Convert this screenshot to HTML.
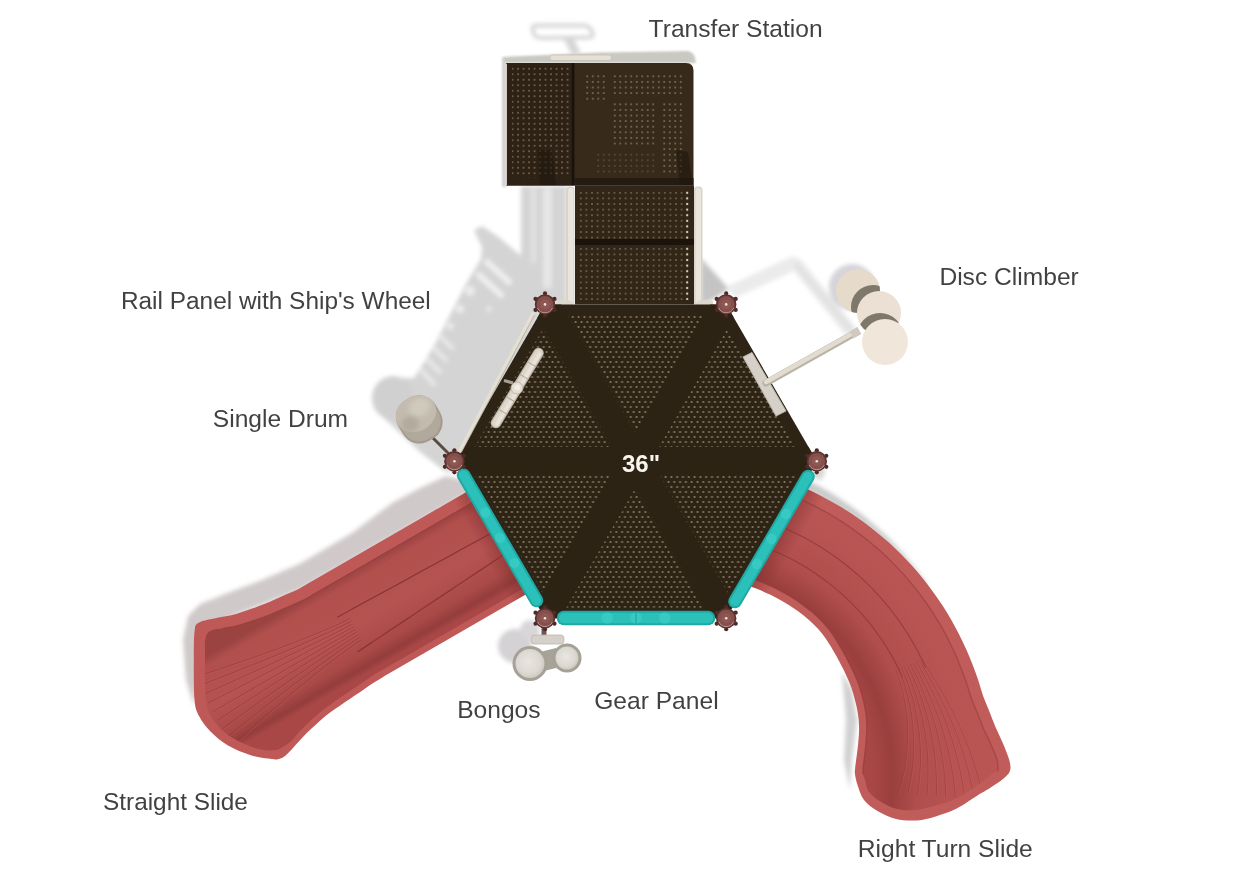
<!DOCTYPE html>
<html><head><meta charset="utf-8"><style>
html,body{margin:0;padding:0;background:#fff;}
body{width:1235px;height:872px;overflow:hidden;}
svg{display:block;}
.lab text{font-family:"Liberation Sans",sans-serif;fill:#3f3f3f;}
</style></head><body>
<svg width="1235" height="872" viewBox="0 0 1235 872">
<defs>
<filter id="blur3" x="-30%" y="-30%" width="160%" height="160%"><feGaussianBlur stdDeviation="2.5"/></filter>
<filter id="blur1" x="-10%" y="-30%" width="120%" height="160%"><feGaussianBlur stdDeviation="0.9"/></filter>
<filter id="blur2" x="-10%" y="-10%" width="120%" height="120%"><feGaussianBlur stdDeviation="2"/></filter>
<pattern id="dots" x="0" y="0" width="5.8" height="10" patternUnits="userSpaceOnUse">
<circle cx="1.5" cy="2" r="1.1" fill="#887a60"/><circle cx="4.4" cy="7" r="1.1" fill="#887a60"/>
</pattern>
<pattern id="sqdots" x="509.8" y="66" width="5.5" height="5.5" patternUnits="userSpaceOnUse"><circle cx="2.75" cy="2.75" r="0.85" fill="#857659"/></pattern>
<pattern id="sqdots3" x="584.5" y="73.5" width="5.5" height="5.6" patternUnits="userSpaceOnUse"><circle cx="2.75" cy="2.8" r="0.85" fill="#8a7b5e"/></pattern>
<pattern id="sqdots4" x="578" y="190" width="5.6" height="5.6" patternUnits="userSpaceOnUse"><circle cx="2.8" cy="2.8" r="1.1" fill="#d8ceb8"/></pattern>
<pattern id="sqdots2" x="578" y="190" width="5.6" height="5.6" patternUnits="userSpaceOnUse"><circle cx="2.8" cy="2.8" r="1" fill="#74674f"/></pattern>
<clipPath id="tpclip"><rect x="508" y="66" width="60" height="117"/><rect x="585" y="74" width="100" height="22"/><rect x="590" y="101" width="95" height="78"/></clipPath>
<linearGradient id="lsgrad" gradientUnits="userSpaceOnUse" x1="347.1" y1="574.2" x2="395.1" y2="657.3">
<stop offset="0" stop-color="#9a4341"/><stop offset="0.1" stop-color="#b14f4d"/><stop offset="0.5" stop-color="#b55351"/><stop offset="0.8" stop-color="#aa4a48"/><stop offset="0.93" stop-color="#943d3c"/><stop offset="1" stop-color="#a84746"/>
</linearGradient>
<linearGradient id="lsentry" gradientUnits="userSpaceOnUse" x1="480.9" y1="550.0" x2="500.0" y2="539.0"><stop offset="0" stop-color="#7a2a29" stop-opacity="0"/><stop offset="1" stop-color="#7a2a29" stop-opacity="0.55"/></linearGradient>
<linearGradient id="rsentry" gradientUnits="userSpaceOnUse" x1="792.3" y1="551.8" x2="771.5" y2="539.8"><stop offset="0" stop-color="#7a2a29" stop-opacity="0"/><stop offset="1" stop-color="#7a2a29" stop-opacity="0.55"/></linearGradient>
<radialGradient id="bong" cx="0.45" cy="0.45" r="0.6"><stop offset="0" stop-color="#e9e6e1"/><stop offset="0.7" stop-color="#dcd8d1"/><stop offset="1" stop-color="#c9c4bb"/></radialGradient>
<radialGradient id="rsgrad" gradientUnits="userSpaceOnUse" cx="677" cy="778" r="317">
<stop offset="0.62" stop-color="#a84745"/><stop offset="0.68" stop-color="#9a3f3e"/><stop offset="0.76" stop-color="#b04e4c"/><stop offset="0.9" stop-color="#b85553"/><stop offset="0.97" stop-color="#b95654"/>
</radialGradient>
</defs>
<rect width="1235" height="872" fill="#fff"/>
<g filter="url(#blur2)">
<path d="M472,482 L446,476 L420,488 L392,503 L352,533 L300,563.5 L262,580 L230,592 L200,604 L188,616 L183,640 L186,680 L194,706 L200,650 L210,625 L300,590 L470,492 Z" fill="#d0c9c9"/>
<path d="M567,186 L521,186 L521,256 L500,238 L482,226 L474,230 L482,247 L481,259 L466,284 L451,313 L436,342 L423,364 L414,378 L400,378 L384,380 L373,392 L374,408 L386,420 L420,452 L446,472 L458,470 L547,302 L567,306 Z" fill="#d4d4d4"/>
<ellipse cx="393" cy="398" rx="21" ry="22" fill="#d0d0d0"/>
<line x1="487" y1="262" x2="509" y2="282" stroke="#efefef" stroke-width="6" stroke-linecap="round"/>
<line x1="479" y1="275" x2="501" y2="295" stroke="#efefef" stroke-width="6" stroke-linecap="round"/>
<circle cx="470" cy="291" r="5" fill="#ececec"/>
<circle cx="460" cy="309" r="4.2" fill="#ececec"/>
<circle cx="489" cy="309" r="2.5" fill="#ececec"/>
<circle cx="450" cy="326" r="3.5" fill="#ececec"/>
<line x1="440" y1="336" x2="452" y2="348" stroke="#e8e8e8" stroke-width="4.5" stroke-linecap="round"/>
<line x1="434" y1="348" x2="446" y2="360" stroke="#e8e8e8" stroke-width="4.5" stroke-linecap="round"/>
<line x1="428" y1="360" x2="440" y2="372" stroke="#e8e8e8" stroke-width="4.5" stroke-linecap="round"/>
<line x1="422" y1="371" x2="434" y2="384" stroke="#e8e8e8" stroke-width="4.5" stroke-linecap="round"/>
<rect x="531" y="188" width="5" height="75" fill="#e2e2e2"/><rect x="543" y="188" width="9" height="100" fill="#e6e6e6"/>
<path d="M536,25.5 L584,25.5 Q590,26 592.5,33 Q594,37.5 588,37.5 L541,38 Q535,38 533.5,33 Q531,25.5 536,25.5 Z" fill="none" stroke="#d6d6d6" stroke-width="4"/>
<path d="M562,36 L572,36 L581,53 L572,55 Z" fill="#d6d6d6"/>
<path d="M701,258 L729,289 L712,300 L701,304 Z" fill="#c4c4c4"/>
<path d="M726,287 L790,257 Q798,256 803,262 L856,328 L846,336 L794,271 L735,298 Z" fill="#ebebeb"/>
<path d="M798,262 L856,330 L850,334 L793,266 Z" fill="#e2e2e2"/>
<circle cx="852" cy="287" r="23" fill="#d4d4d9"/>
<circle cx="515" cy="646" r="17" fill="#d4d2d4"/><circle cx="530" cy="630" r="10" fill="#d8d6d8"/>
<path d="M767.4,462.8 C770.7,461.7 778.2,466.7 783.4,468.9 C788.7,471.0 794.0,473.3 799.1,475.7 C804.3,478.1 809.4,480.7 814.4,483.4 C819.4,486.1 824.3,488.9 829.2,491.8 C834.0,494.7 838.8,497.8 843.5,501.0 C848.1,504.1 852.7,507.4 857.2,510.8 C861.7,514.2 866.1,517.8 870.4,521.4 C874.7,525.0 878.9,528.7 882.9,532.6 C887.0,536.4 891.0,540.3 894.9,544.4 C898.7,548.4 902.5,552.5 906.1,556.7 C909.7,561.0 913.3,565.3 916.7,569.7 C920.1,574.0 925.1,580.6 926.5,583.1 C927.9,585.5 926.9,586.2 924.9,584.3 C922.9,582.4 918.1,575.7 914.5,571.6 C910.9,567.4 907.2,563.4 903.4,559.4 C899.5,555.5 895.6,551.6 891.6,547.8 C887.6,544.1 883.5,540.4 879.3,536.9 C875.1,533.4 870.8,530.0 866.4,526.6 C862.0,523.3 857.6,520.1 853.0,517.1 C848.5,514.0 843.8,511.0 839.1,508.2 C834.4,505.3 829.6,502.6 824.8,500.0 C819.9,497.5 815.0,495.0 810.0,492.7 C805.1,490.3 800.0,488.1 794.9,486.1 C789.9,484.0 784.7,482.1 779.5,480.3 C774.3,478.5 765.8,478.2 763.8,475.3 C761.8,472.4 764.1,463.9 767.4,462.8 Z" fill="#cbcbcb"/>
<path d="M812,462 L826,470 L822,480 L812,478 Z" fill="#d8d8d8"/>
<path d="M842,672 L852,690 L857,720 L852,760 L850,790 L844,760 L846,720 Z" fill="#d0d0d0"/>
</g>
<g>
<path d="M505.9,469.2 C494.9,452.8 499.0,473.2 495.5,475.2 C492.0,477.2 488.6,479.2 485.1,481.2 C481.6,483.2 478.2,485.2 474.7,487.2 C471.2,489.2 467.8,491.2 464.3,493.2 C460.9,495.2 457.4,497.2 453.9,499.2 C450.5,501.2 447.0,503.2 443.5,505.2 C440.1,507.2 436.6,509.2 433.1,511.2 C429.7,513.2 426.2,515.2 422.8,517.2 C419.3,519.2 415.8,521.2 412.4,523.2 C408.9,525.2 405.4,527.2 402.0,529.2 C398.5,531.2 395.0,533.2 391.6,535.2 C388.1,537.2 384.7,539.2 381.2,541.2 C377.7,543.2 374.3,545.2 370.8,547.2 C367.3,549.2 363.9,551.2 360.4,553.2 C356.9,555.2 353.5,557.2 350.0,559.2 C346.5,561.2 343.1,563.2 339.6,565.2 C336.2,567.2 332.7,569.2 329.2,571.2 C325.8,573.2 322.3,575.2 318.8,577.2 C315.4,579.2 311.9,581.2 308.4,583.2 C305.0,585.2 301.6,587.4 298.1,589.2 C294.5,591.0 290.7,592.4 287.0,594.1 C283.3,595.7 279.6,597.3 275.9,598.9 C272.3,600.5 268.6,602.3 264.9,603.8 C261.2,605.3 257.3,606.7 253.5,608.1 C249.7,609.4 245.8,610.7 241.9,611.9 C238.0,613.1 234.1,614.5 230.1,615.5 C226.0,616.4 222.7,616.5 217.5,617.7 C212.2,618.9 202.4,620.3 198.6,622.7 C194.8,625.1 195.3,625.8 194.5,632.0 C193.7,638.2 193.8,648.7 193.8,660.0 C193.8,671.3 193.6,690.7 194.5,700.0 C195.4,709.3 196.4,710.8 199.0,716.0 C201.6,721.2 205.2,726.1 210.0,731.0 C214.8,735.9 221.3,741.6 228.0,745.6 C234.7,749.6 243.3,752.8 250.0,755.0 C256.7,757.2 263.5,757.9 268.0,758.6 C272.5,759.3 274.4,759.7 277.0,759.4 C279.6,759.1 281.3,758.4 283.5,757.0 C285.7,755.6 287.5,753.7 289.9,751.2 C292.4,748.6 295.6,744.9 298.4,741.9 C301.3,738.8 304.1,735.7 307.0,732.7 C310.0,729.8 313.0,727.1 316.0,724.4 C319.1,721.6 322.1,718.8 325.2,716.2 C328.4,713.7 331.7,711.5 335.0,709.1 C338.2,706.8 341.5,704.5 344.8,702.2 C348.1,700.0 351.5,697.8 354.8,695.5 C358.2,693.3 361.5,691.1 364.8,688.8 C368.1,686.6 371.4,684.3 374.8,682.1 C378.2,680.0 381.6,677.9 385.0,675.8 C388.4,673.8 391.9,671.8 395.4,669.8 C398.9,667.8 402.3,665.8 405.8,663.8 C409.3,661.8 412.7,659.8 416.2,657.8 C419.7,655.8 423.1,653.8 426.6,651.8 C430.0,649.8 433.5,647.8 437.0,645.8 C440.4,643.8 443.9,641.8 447.4,639.8 C450.8,637.8 454.3,635.8 457.8,633.8 C461.2,631.8 464.7,629.8 468.1,627.8 C471.6,625.8 475.1,623.8 478.5,621.8 C482.0,619.8 485.5,617.8 488.9,615.8 C492.4,613.8 495.9,611.8 499.3,609.8 C502.8,607.8 506.3,605.8 509.7,603.8 C513.2,601.8 516.6,599.8 520.1,597.8 C523.6,595.8 527.0,593.8 530.5,591.8 C534.0,589.8 537.4,587.8 540.9,585.8 C544.4,583.8 547.8,581.8 551.3,579.8 C554.7,577.8 569.2,592.3 561.7,573.8 C554.1,555.4 516.9,485.6 505.9,469.2 Z" fill="#be5957"/>
<path d="M511.9,479.6 C501.8,466.2 505.0,483.6 501.5,485.6 C498.0,487.6 494.6,489.6 491.1,491.6 C487.6,493.6 484.2,495.6 480.7,497.6 C477.2,499.6 473.8,501.6 470.3,503.6 C466.9,505.6 463.4,507.6 459.9,509.6 C456.5,511.6 453.0,513.6 449.5,515.6 C446.1,517.6 442.6,519.6 439.1,521.6 C435.7,523.6 432.2,525.6 428.8,527.6 C425.3,529.6 421.8,531.6 418.4,533.6 C414.9,535.6 411.4,537.6 408.0,539.6 C404.5,541.6 401.0,543.6 397.6,545.6 C394.1,547.6 390.7,549.6 387.2,551.6 C383.7,553.6 380.3,555.6 376.8,557.6 C373.3,559.6 369.9,561.6 366.4,563.6 C362.9,565.6 359.5,567.6 356.0,569.6 C352.5,571.6 349.1,573.6 345.6,575.6 C342.2,577.6 338.7,579.6 335.2,581.6 C331.8,583.6 328.3,585.6 324.8,587.6 C321.4,589.6 317.9,591.6 314.4,593.6 C311.0,595.6 307.6,597.8 304.1,599.6 C300.5,601.4 296.7,602.8 293.0,604.5 C289.3,606.1 285.6,607.7 281.9,609.3 C278.3,610.9 274.6,612.7 270.9,614.2 C267.2,615.7 263.3,617.1 259.5,618.4 C255.7,619.8 251.8,621.1 247.9,622.3 C244.0,623.5 240.1,624.9 236.1,625.9 C232.0,626.8 228.3,626.7 223.5,628.1 C218.6,629.4 210.1,628.7 207.0,634.0 C203.9,639.3 205.2,649.0 205.0,660.0 C204.8,671.0 204.8,690.3 206.0,700.0 C207.2,709.7 208.3,712.2 212.0,718.0 C215.7,723.8 220.8,730.0 228.0,735.0 C235.2,740.0 247.2,745.5 255.0,748.0 C262.8,750.5 269.2,750.9 275.0,750.0 C280.8,749.1 285.7,745.2 289.5,742.4 C293.4,739.6 295.2,736.2 298.0,733.2 C300.9,730.2 303.8,727.1 306.7,724.2 C309.7,721.4 312.8,718.7 315.8,716.0 C318.9,713.3 322.0,710.7 325.2,708.2 C328.4,705.8 331.7,703.5 335.0,701.2 C338.3,698.8 341.6,696.6 344.9,694.4 C348.2,692.1 351.6,689.9 354.9,687.7 C358.2,685.4 361.6,683.2 364.9,681.0 C368.2,678.7 371.5,676.4 374.9,674.3 C378.3,672.1 381.8,670.2 385.2,668.2 C388.7,666.2 392.2,664.2 395.6,662.2 C399.1,660.2 402.5,658.2 406.0,656.2 C409.5,654.2 412.9,652.2 416.4,650.2 C419.9,648.2 423.3,646.2 426.8,644.2 C430.3,642.2 433.7,640.2 437.2,638.2 C440.7,636.2 444.1,634.2 447.6,632.2 C451.0,630.2 454.5,628.2 458.0,626.2 C461.4,624.2 464.9,622.2 468.4,620.2 C471.8,618.2 475.3,616.2 478.8,614.2 C482.2,612.2 485.7,610.2 489.1,608.2 C492.6,606.2 496.1,604.2 499.5,602.2 C503.0,600.2 506.5,598.2 509.9,596.2 C513.4,594.2 516.9,592.2 520.3,590.2 C523.8,588.2 527.2,586.2 530.7,584.2 C534.2,582.2 537.6,580.2 541.1,578.2 C544.6,576.2 548.0,574.2 551.5,572.2 C555.0,570.2 568.5,581.6 561.9,566.2 C555.3,550.8 522.0,493.0 511.9,479.6 Z" fill="url(#lsgrad)"/>
<path d="M511.9,479.6 C510.2,480.6 505.0,483.6 501.5,485.6 C498.0,487.6 494.6,489.6 491.1,491.6 C487.6,493.6 484.2,495.6 480.7,497.6 C477.2,499.6 473.8,501.6 470.3,503.6 C466.9,505.6 463.4,507.6 459.9,509.6 C456.5,511.6 453.0,513.6 449.5,515.6 C446.1,517.6 442.6,519.6 439.1,521.6 C435.7,523.6 432.2,525.6 428.8,527.6 C425.3,529.6 421.8,531.6 418.4,533.6 C414.9,535.6 411.4,537.6 408.0,539.6 C404.5,541.6 401.0,543.6 397.6,545.6 C394.1,547.6 390.7,549.6 387.2,551.6 C383.7,553.6 380.3,555.6 376.8,557.6 C373.3,559.6 369.9,561.6 366.4,563.6 C362.9,565.6 359.5,567.6 356.0,569.6 C352.5,571.6 349.1,573.6 345.6,575.6 C342.2,577.6 338.7,579.6 335.2,581.6 C331.8,583.6 328.3,585.6 324.8,587.6 C321.4,589.6 317.9,591.6 314.4,593.6 C311.0,595.6 307.6,597.8 304.1,599.6 C300.5,601.4 296.7,602.8 293.0,604.5 C289.3,606.1 285.6,607.7 281.9,609.3 C278.3,610.9 274.6,612.7 270.9,614.2 C267.2,615.7 263.3,617.1 259.5,618.4 C255.7,619.8 251.8,621.1 247.9,622.3 C244.0,623.5 240.1,624.9 236.1,625.9 C232.0,626.8 225.6,627.7 223.5,628.1" fill="none" stroke="#8c3634" stroke-width="1" opacity="0.5"/>
<path d="M512.9,521.4 C510.0,523.0 501.2,527.8 495.4,531.0 C489.5,534.2 483.7,537.4 477.8,540.5 C471.9,543.7 466.1,546.9 460.2,550.1 C454.4,553.3 448.5,556.5 442.7,559.7 C436.8,562.9 431.0,566.1 425.1,569.3 C419.3,572.5 413.4,575.7 407.6,578.9 C401.7,582.1 395.9,585.3 390.0,588.5 C384.1,591.7 378.3,594.9 372.4,598.1 C366.6,601.2 360.7,604.4 354.9,607.6 C349.0,610.8 340.2,615.6 337.3,617.2" fill="none" stroke="#7e2e2d" stroke-width="1.1" opacity="0.85"/>
<path d="M524.2,541.0 C521.4,542.8 513.1,548.4 507.5,552.1 C502.0,555.8 496.4,559.5 490.9,563.2 C485.3,566.9 479.7,570.6 474.2,574.3 C468.6,578.0 463.1,581.7 457.5,585.4 C451.9,589.1 446.4,592.8 440.8,596.5 C435.3,600.2 429.7,603.9 424.1,607.6 C418.6,611.3 413.0,615.0 407.5,618.7 C401.9,622.4 396.3,626.1 390.8,629.8 C385.2,633.5 379.7,637.2 374.1,640.9 C368.5,644.6 360.2,650.2 357.4,652.0" fill="none" stroke="#7e2e2d" stroke-width="1.1" opacity="0.85"/>
<clipPath id="lsclip"><path d="M511.9,479.6 C501.8,466.2 505.0,483.6 501.5,485.6 C498.0,487.6 494.6,489.6 491.1,491.6 C487.6,493.6 484.2,495.6 480.7,497.6 C477.2,499.6 473.8,501.6 470.3,503.6 C466.9,505.6 463.4,507.6 459.9,509.6 C456.5,511.6 453.0,513.6 449.5,515.6 C446.1,517.6 442.6,519.6 439.1,521.6 C435.7,523.6 432.2,525.6 428.8,527.6 C425.3,529.6 421.8,531.6 418.4,533.6 C414.9,535.6 411.4,537.6 408.0,539.6 C404.5,541.6 401.0,543.6 397.6,545.6 C394.1,547.6 390.7,549.6 387.2,551.6 C383.7,553.6 380.3,555.6 376.8,557.6 C373.3,559.6 369.9,561.6 366.4,563.6 C362.9,565.6 359.5,567.6 356.0,569.6 C352.5,571.6 349.1,573.6 345.6,575.6 C342.2,577.6 338.7,579.6 335.2,581.6 C331.8,583.6 328.3,585.6 324.8,587.6 C321.4,589.6 317.9,591.6 314.4,593.6 C311.0,595.6 307.6,597.8 304.1,599.6 C300.5,601.4 296.7,602.8 293.0,604.5 C289.3,606.1 285.6,607.7 281.9,609.3 C278.3,610.9 274.6,612.7 270.9,614.2 C267.2,615.7 263.3,617.1 259.5,618.4 C255.7,619.8 251.8,621.1 247.9,622.3 C244.0,623.5 240.1,624.9 236.1,625.9 C232.0,626.8 228.3,626.7 223.5,628.1 C218.6,629.4 210.1,628.7 207.0,634.0 C203.9,639.3 205.2,649.0 205.0,660.0 C204.8,671.0 204.8,690.3 206.0,700.0 C207.2,709.7 208.3,712.2 212.0,718.0 C215.7,723.8 220.8,730.0 228.0,735.0 C235.2,740.0 247.2,745.5 255.0,748.0 C262.8,750.5 269.2,750.9 275.0,750.0 C280.8,749.1 285.7,745.2 289.5,742.4 C293.4,739.6 295.2,736.2 298.0,733.2 C300.9,730.2 303.8,727.1 306.7,724.2 C309.7,721.4 312.8,718.7 315.8,716.0 C318.9,713.3 322.0,710.7 325.2,708.2 C328.4,705.8 331.7,703.5 335.0,701.2 C338.3,698.8 341.6,696.6 344.9,694.4 C348.2,692.1 351.6,689.9 354.9,687.7 C358.2,685.4 361.6,683.2 364.9,681.0 C368.2,678.7 371.5,676.4 374.9,674.3 C378.3,672.1 381.8,670.2 385.2,668.2 C388.7,666.2 392.2,664.2 395.6,662.2 C399.1,660.2 402.5,658.2 406.0,656.2 C409.5,654.2 412.9,652.2 416.4,650.2 C419.9,648.2 423.3,646.2 426.8,644.2 C430.3,642.2 433.7,640.2 437.2,638.2 C440.7,636.2 444.1,634.2 447.6,632.2 C451.0,630.2 454.5,628.2 458.0,626.2 C461.4,624.2 464.9,622.2 468.4,620.2 C471.8,618.2 475.3,616.2 478.8,614.2 C482.2,612.2 485.7,610.2 489.1,608.2 C492.6,606.2 496.1,604.2 499.5,602.2 C503.0,600.2 506.5,598.2 509.9,596.2 C513.4,594.2 516.9,592.2 520.3,590.2 C523.8,588.2 527.2,586.2 530.7,584.2 C534.2,582.2 537.6,580.2 541.1,578.2 C544.6,576.2 548.0,574.2 551.5,572.2 C555.0,570.2 568.5,581.6 561.9,566.2 C555.3,550.8 522.0,493.0 511.9,479.6 Z"/></clipPath><g clip-path="url(#lsclip)">
<path d="M349.8,618.8 C347.5,619.9 340.8,623.2 336.2,625.3 C331.6,627.3 327.0,629.3 322.3,631.2 C317.7,633.2 313.0,635.1 308.3,637.0 C303.6,638.8 298.9,640.7 294.2,642.5 C289.4,644.3 284.7,646.1 280.0,647.9 C275.2,649.6 270.4,651.4 265.7,653.1 C260.9,654.8 256.1,656.5 251.3,658.2 C246.5,659.9 241.7,661.6 236.9,663.3 C232.1,664.9 227.2,666.6 222.4,668.2 C217.6,669.8 212.7,671.4 207.9,673.0 C203.0,674.6 195.7,677.0 193.3,677.8" fill="none" stroke="#8a3432" stroke-width="0.9" opacity="0.5"/>
<path d="M350.4,619.7 C348.1,620.8 341.4,624.1 336.8,626.2 C332.2,628.2 327.6,630.2 322.9,632.1 C318.3,634.1 313.6,636.0 308.9,637.9 C304.2,639.7 299.5,641.6 294.8,643.4 C290.0,645.2 285.3,647.0 280.6,648.8 C275.8,650.5 271.0,652.3 266.3,654.0 C261.5,655.7 256.7,657.4 251.9,659.1 C247.1,660.8 242.3,662.5 237.5,664.2 C232.7,665.8 227.8,667.5 223.0,669.1 C218.2,670.7 213.3,672.3 208.5,673.9 C203.6,675.5 196.3,677.9 193.9,678.7" fill="none" stroke="#c8625e" stroke-width="0.8" opacity="0.45"/>
<path d="M351.3,621.4 C349.0,622.5 342.4,625.9 337.8,628.1 C333.3,630.3 328.8,632.4 324.2,634.5 C319.6,636.6 315.0,638.6 310.4,640.6 C305.8,642.7 301.2,644.7 296.6,646.7 C292.0,648.7 287.3,650.6 282.7,652.6 C278.0,654.5 273.4,656.5 268.7,658.4 C264.0,660.3 259.4,662.2 254.7,664.1 C250.0,666.0 245.3,667.9 240.6,669.7 C235.9,671.6 231.2,673.5 226.5,675.3 C221.8,677.2 217.1,679.0 212.4,680.8 C207.7,682.6 200.6,685.4 198.2,686.3" fill="none" stroke="#8a3432" stroke-width="0.9" opacity="0.5"/>
<path d="M351.9,622.3 C349.6,623.4 343.0,626.8 338.4,629.0 C333.9,631.2 329.4,633.3 324.8,635.4 C320.2,637.5 315.6,639.5 311.0,641.5 C306.4,643.6 301.8,645.6 297.2,647.6 C292.6,649.6 287.9,651.5 283.3,653.5 C278.6,655.4 274.0,657.4 269.3,659.3 C264.6,661.2 260.0,663.1 255.3,665.0 C250.6,666.9 245.9,668.8 241.2,670.6 C236.5,672.5 231.8,674.4 227.1,676.2 C222.4,678.1 217.7,679.9 213.0,681.7 C208.3,683.5 201.2,686.3 198.8,687.2" fill="none" stroke="#c8625e" stroke-width="0.8" opacity="0.45"/>
<path d="M352.8,624.0 C350.6,625.2 343.9,628.7 339.5,631.0 C335.0,633.3 330.5,635.5 326.1,637.7 C321.6,639.9 317.1,642.1 312.6,644.3 C308.0,646.5 303.5,648.7 299.0,650.8 C294.5,653.0 289.9,655.1 285.4,657.3 C280.9,659.4 276.3,661.5 271.8,663.7 C267.2,665.8 262.6,667.9 258.1,670.0 C253.5,672.1 248.9,674.1 244.4,676.2 C239.8,678.3 235.2,680.4 230.6,682.4 C226.1,684.5 221.5,686.6 216.9,688.6 C212.3,690.7 205.4,693.7 203.1,694.7" fill="none" stroke="#8a3432" stroke-width="0.9" opacity="0.5"/>
<path d="M353.4,624.9 C351.2,626.1 344.5,629.6 340.1,631.9 C335.6,634.2 331.1,636.4 326.7,638.6 C322.2,640.8 317.7,643.0 313.2,645.2 C308.6,647.4 304.1,649.6 299.6,651.7 C295.1,653.9 290.5,656.0 286.0,658.2 C281.5,660.3 276.9,662.4 272.4,664.6 C267.8,666.7 263.2,668.8 258.7,670.9 C254.1,673.0 249.5,675.0 245.0,677.1 C240.4,679.2 235.8,681.3 231.2,683.3 C226.7,685.4 222.1,687.5 217.5,689.5 C212.9,691.6 206.0,694.6 203.7,695.6" fill="none" stroke="#c8625e" stroke-width="0.8" opacity="0.45"/>
<path d="M354.3,626.6 C352.1,627.8 345.5,631.4 341.1,633.8 C336.7,636.2 332.3,638.6 327.9,641.0 C323.5,643.3 319.1,645.7 314.7,648.0 C310.3,650.4 305.8,652.7 301.4,655.0 C297.0,657.3 292.5,659.7 288.1,662.0 C283.7,664.3 279.2,666.6 274.8,668.9 C270.4,671.2 265.9,673.5 261.5,675.8 C257.0,678.1 252.6,680.4 248.1,682.7 C243.7,685.0 239.2,687.3 234.8,689.6 C230.3,691.8 225.8,694.1 221.4,696.4 C216.9,698.7 210.2,702.1 208.0,703.2" fill="none" stroke="#8a3432" stroke-width="0.9" opacity="0.5"/>
<path d="M354.9,627.5 C352.7,628.7 346.1,632.3 341.7,634.7 C337.3,637.1 332.9,639.5 328.5,641.9 C324.1,644.2 319.7,646.6 315.3,648.9 C310.9,651.3 306.4,653.6 302.0,655.9 C297.6,658.2 293.1,660.6 288.7,662.9 C284.3,665.2 279.8,667.5 275.4,669.8 C271.0,672.1 266.5,674.4 262.1,676.7 C257.6,679.0 253.2,681.3 248.7,683.6 C244.3,685.9 239.8,688.2 235.4,690.5 C230.9,692.7 226.4,695.0 222.0,697.3 C217.5,699.6 210.8,703.0 208.6,704.1" fill="none" stroke="#c8625e" stroke-width="0.8" opacity="0.45"/>
<path d="M355.8,629.2 C353.6,630.4 347.1,634.2 342.8,636.7 C338.5,639.2 334.1,641.7 329.8,644.2 C325.5,646.7 321.1,649.2 316.8,651.7 C312.5,654.2 308.1,656.7 303.8,659.2 C299.5,661.7 295.2,664.2 290.8,666.7 C286.5,669.2 282.2,671.7 277.8,674.2 C273.5,676.7 269.2,679.2 264.9,681.7 C260.5,684.2 256.2,686.7 251.9,689.2 C247.5,691.7 243.2,694.2 238.9,696.7 C234.5,699.2 230.2,701.7 225.9,704.2 C221.5,706.7 215.1,710.4 212.9,711.7" fill="none" stroke="#8a3432" stroke-width="0.9" opacity="0.5"/>
<path d="M356.4,630.1 C354.2,631.3 347.7,635.1 343.4,637.6 C339.1,640.1 334.7,642.6 330.4,645.1 C326.1,647.6 321.7,650.1 317.4,652.6 C313.1,655.1 308.8,657.6 304.4,660.1 C300.1,662.6 295.8,665.1 291.4,667.6 C287.1,670.1 282.8,672.6 278.4,675.1 C274.1,677.6 269.8,680.1 265.5,682.6 C261.1,685.1 256.8,687.6 252.5,690.1 C248.1,692.6 243.8,695.1 239.5,697.6 C235.1,700.1 230.8,702.6 226.5,705.1 C222.1,707.6 215.7,711.3 213.5,712.6" fill="none" stroke="#c8625e" stroke-width="0.8" opacity="0.45"/>
<path d="M357.3,631.8 C355.1,633.1 348.7,636.9 344.4,639.6 C340.2,642.2 335.9,644.8 331.7,647.4 C327.4,650.1 323.2,652.7 318.9,655.4 C314.7,658.0 310.5,660.7 306.2,663.4 C302.0,666.0 297.8,668.7 293.5,671.4 C289.3,674.1 285.1,676.8 280.9,679.5 C276.7,682.2 272.5,684.9 268.2,687.6 C264.0,690.3 259.8,693.0 255.6,695.7 C251.4,698.4 247.2,701.1 243.0,703.8 C238.8,706.5 234.6,709.3 230.4,712.0 C226.2,714.7 219.9,718.8 217.8,720.2" fill="none" stroke="#8a3432" stroke-width="0.9" opacity="0.5"/>
<path d="M357.9,632.7 C355.7,634.0 349.3,637.8 345.0,640.5 C340.8,643.1 336.5,645.7 332.3,648.3 C328.0,651.0 323.8,653.6 319.5,656.3 C315.3,658.9 311.1,661.6 306.8,664.3 C302.6,666.9 298.4,669.6 294.1,672.3 C289.9,675.0 285.7,677.7 281.5,680.4 C277.3,683.1 273.1,685.8 268.8,688.5 C264.6,691.2 260.4,693.9 256.2,696.6 C252.0,699.3 247.8,702.0 243.6,704.7 C239.4,707.4 235.2,710.2 231.0,712.9 C226.8,715.6 220.5,719.7 218.4,721.1" fill="none" stroke="#c8625e" stroke-width="0.8" opacity="0.45"/>
<path d="M358.8,634.4 C356.7,635.7 350.3,639.7 346.1,642.4 C341.9,645.1 337.7,647.9 333.5,650.7 C329.4,653.4 325.2,656.3 321.1,659.1 C316.9,661.9 312.8,664.7 308.6,667.5 C304.5,670.4 300.4,673.2 296.3,676.1 C292.1,679.0 288.0,681.9 283.9,684.7 C279.8,687.6 275.7,690.5 271.6,693.4 C267.5,696.3 263.4,699.2 259.3,702.2 C255.3,705.1 251.2,708.0 247.1,711.0 C243.0,713.9 239.0,716.8 234.9,719.8 C230.8,722.7 224.7,727.2 222.7,728.7" fill="none" stroke="#8a3432" stroke-width="0.9" opacity="0.5"/>
<path d="M359.4,635.3 C357.3,636.6 350.9,640.6 346.7,643.3 C342.5,646.0 338.3,648.8 334.1,651.6 C330.0,654.3 325.8,657.2 321.7,660.0 C317.5,662.8 313.4,665.6 309.2,668.4 C305.1,671.3 301.0,674.1 296.9,677.0 C292.7,679.9 288.6,682.8 284.5,685.6 C280.4,688.5 276.3,691.4 272.2,694.3 C268.1,697.2 264.0,700.1 259.9,703.1 C255.9,706.0 251.8,708.9 247.7,711.9 C243.6,714.8 239.6,717.7 235.5,720.7 C231.4,723.6 225.3,728.1 223.3,729.6" fill="none" stroke="#c8625e" stroke-width="0.8" opacity="0.45"/>
<path d="M360.3,637.0 C358.2,638.4 351.9,642.5 347.7,645.3 C343.6,648.1 339.5,651.0 335.4,653.9 C331.3,656.8 327.3,659.8 323.2,662.7 C319.1,665.7 315.1,668.7 311.1,671.7 C307.0,674.7 303.0,677.8 299.0,680.8 C295.0,683.9 291.0,686.9 287.0,690.0 C283.0,693.1 279.0,696.2 275.0,699.3 C271.0,702.4 267.1,705.5 263.1,708.7 C259.1,711.8 255.2,714.9 251.2,718.1 C247.3,721.2 243.3,724.4 239.4,727.6 C235.4,730.8 229.5,735.5 227.6,737.1" fill="none" stroke="#8a3432" stroke-width="0.9" opacity="0.5"/>
<path d="M360.9,637.9 C358.8,639.3 352.5,643.4 348.3,646.2 C344.2,649.0 340.1,651.9 336.0,654.8 C331.9,657.7 327.9,660.7 323.8,663.6 C319.7,666.6 315.7,669.6 311.7,672.6 C307.6,675.6 303.6,678.7 299.6,681.7 C295.6,684.8 291.6,687.8 287.6,690.9 C283.6,694.0 279.6,697.1 275.6,700.2 C271.6,703.3 267.7,706.4 263.7,709.6 C259.7,712.7 255.8,715.8 251.8,719.0 C247.9,722.1 243.9,725.3 240.0,728.5 C236.0,731.7 230.1,736.4 228.2,738.0" fill="none" stroke="#c8625e" stroke-width="0.8" opacity="0.45"/>
<path d="M361.8,639.6 C359.7,641.0 353.5,645.2 349.4,648.1 C345.3,651.1 341.3,654.1 337.3,657.2 C333.3,660.2 329.3,663.3 325.3,666.4 C321.3,669.6 317.4,672.7 313.5,675.9 C309.5,679.1 305.6,682.3 301.7,685.5 C297.8,688.8 293.9,692.0 290.0,695.3 C286.1,698.6 282.3,701.9 278.4,705.2 C274.5,708.5 270.7,711.8 266.8,715.1 C263.0,718.5 259.2,721.8 255.3,725.2 C251.5,728.6 247.7,732.0 243.9,735.4 C240.1,738.8 234.4,743.9 232.5,745.6" fill="none" stroke="#8a3432" stroke-width="0.9" opacity="0.5"/>
<path d="M362.4,640.5 C360.3,641.9 354.1,646.1 350.0,649.0 C345.9,652.0 341.9,655.0 337.9,658.1 C333.9,661.1 329.9,664.2 325.9,667.3 C321.9,670.5 318.0,673.6 314.1,676.8 C310.1,680.0 306.2,683.2 302.3,686.4 C298.4,689.7 294.5,692.9 290.6,696.2 C286.7,699.5 282.9,702.8 279.0,706.1 C275.1,709.4 271.3,712.7 267.4,716.0 C263.6,719.4 259.8,722.7 255.9,726.1 C252.1,729.5 248.3,732.9 244.5,736.3 C240.7,739.7 235.0,744.8 233.1,746.5" fill="none" stroke="#c8625e" stroke-width="0.8" opacity="0.45"/>
</g>
<clipPath id="lsall"><path d="M505.9,469.2 C494.9,452.8 499.0,473.2 495.5,475.2 C492.0,477.2 488.6,479.2 485.1,481.2 C481.6,483.2 478.2,485.2 474.7,487.2 C471.2,489.2 467.8,491.2 464.3,493.2 C460.9,495.2 457.4,497.2 453.9,499.2 C450.5,501.2 447.0,503.2 443.5,505.2 C440.1,507.2 436.6,509.2 433.1,511.2 C429.7,513.2 426.2,515.2 422.8,517.2 C419.3,519.2 415.8,521.2 412.4,523.2 C408.9,525.2 405.4,527.2 402.0,529.2 C398.5,531.2 395.0,533.2 391.6,535.2 C388.1,537.2 384.7,539.2 381.2,541.2 C377.7,543.2 374.3,545.2 370.8,547.2 C367.3,549.2 363.9,551.2 360.4,553.2 C356.9,555.2 353.5,557.2 350.0,559.2 C346.5,561.2 343.1,563.2 339.6,565.2 C336.2,567.2 332.7,569.2 329.2,571.2 C325.8,573.2 322.3,575.2 318.8,577.2 C315.4,579.2 311.9,581.2 308.4,583.2 C305.0,585.2 301.6,587.4 298.1,589.2 C294.5,591.0 290.7,592.4 287.0,594.1 C283.3,595.7 279.6,597.3 275.9,598.9 C272.3,600.5 268.6,602.3 264.9,603.8 C261.2,605.3 257.3,606.7 253.5,608.1 C249.7,609.4 245.8,610.7 241.9,611.9 C238.0,613.1 234.1,614.5 230.1,615.5 C226.0,616.4 222.7,616.5 217.5,617.7 C212.2,618.9 202.4,620.3 198.6,622.7 C194.8,625.1 195.3,625.8 194.5,632.0 C193.7,638.2 193.8,648.7 193.8,660.0 C193.8,671.3 193.6,690.7 194.5,700.0 C195.4,709.3 196.4,710.8 199.0,716.0 C201.6,721.2 205.2,726.1 210.0,731.0 C214.8,735.9 221.3,741.6 228.0,745.6 C234.7,749.6 243.3,752.8 250.0,755.0 C256.7,757.2 263.5,757.9 268.0,758.6 C272.5,759.3 274.4,759.7 277.0,759.4 C279.6,759.1 281.3,758.4 283.5,757.0 C285.7,755.6 287.5,753.7 289.9,751.2 C292.4,748.6 295.6,744.9 298.4,741.9 C301.3,738.8 304.1,735.7 307.0,732.7 C310.0,729.8 313.0,727.1 316.0,724.4 C319.1,721.6 322.1,718.8 325.2,716.2 C328.4,713.7 331.7,711.5 335.0,709.1 C338.2,706.8 341.5,704.5 344.8,702.2 C348.1,700.0 351.5,697.8 354.8,695.5 C358.2,693.3 361.5,691.1 364.8,688.8 C368.1,686.6 371.4,684.3 374.8,682.1 C378.2,680.0 381.6,677.9 385.0,675.8 C388.4,673.8 391.9,671.8 395.4,669.8 C398.9,667.8 402.3,665.8 405.8,663.8 C409.3,661.8 412.7,659.8 416.2,657.8 C419.7,655.8 423.1,653.8 426.6,651.8 C430.0,649.8 433.5,647.8 437.0,645.8 C440.4,643.8 443.9,641.8 447.4,639.8 C450.8,637.8 454.3,635.8 457.8,633.8 C461.2,631.8 464.7,629.8 468.1,627.8 C471.6,625.8 475.1,623.8 478.5,621.8 C482.0,619.8 485.5,617.8 488.9,615.8 C492.4,613.8 495.9,611.8 499.3,609.8 C502.8,607.8 506.3,605.8 509.7,603.8 C513.2,601.8 516.6,599.8 520.1,597.8 C523.6,595.8 527.0,593.8 530.5,591.8 C534.0,589.8 537.4,587.8 540.9,585.8 C544.4,583.8 547.8,581.8 551.3,579.8 C554.7,577.8 569.2,592.3 561.7,573.8 C554.1,555.4 516.9,485.6 505.9,469.2 Z"/></clipPath>
<polygon points="494.6,449.7 440.9,480.7 520.9,619.3 574.6,588.3" fill="url(#lsentry)" clip-path="url(#lsall)"/>
<path d="M742.9,468.0 C749.5,450.4 753.7,470.5 759.0,471.9 C764.4,473.3 769.7,474.9 774.9,476.6 C780.2,478.4 785.4,480.2 790.5,482.2 C795.7,484.2 800.8,486.3 805.9,488.6 C810.9,490.8 815.9,493.2 820.8,495.7 C825.7,498.2 830.6,500.9 835.4,503.7 C840.2,506.4 844.9,509.3 849.5,512.3 C854.2,515.4 858.7,518.5 863.2,521.7 C867.6,525.0 872.0,528.4 876.3,531.9 C880.6,535.3 884.8,538.9 888.9,542.6 C893.0,546.3 897.0,550.2 900.9,554.1 C904.8,558.0 908.6,562.0 912.3,566.1 C916.0,570.2 919.6,574.4 923.1,578.7 C926.5,583.0 929.9,587.4 933.1,591.9 C936.4,596.4 939.5,600.9 942.5,605.6 C945.5,610.2 948.4,614.9 951.2,619.7 C953.9,624.5 956.5,629.4 959.0,634.3 C961.5,639.2 963.9,644.2 966.2,649.3 C968.4,654.3 970.5,659.4 972.5,664.6 C974.5,669.7 976.4,674.9 978.2,680.1 C979.9,685.4 981.3,690.7 983.1,696.0 C985.0,701.2 987.3,706.3 989.4,711.6 C991.5,716.9 993.4,722.2 995.7,727.5 C998.0,732.9 1000.8,738.2 1003.1,743.7 C1005.3,749.2 1008.2,756.0 1009.4,760.6 C1010.5,765.1 1011.0,768.0 1009.9,771.0 C1008.9,774.1 1006.3,776.2 1003.0,779.0 C999.7,781.8 994.2,785.3 990.0,788.0 C985.8,790.7 983.3,791.9 977.8,795.3 C972.2,798.7 963.7,805.0 956.7,808.5 C949.7,812.0 942.2,814.4 935.6,816.4 C929.0,818.4 923.6,820.0 917.0,820.4 C910.4,820.8 902.6,820.6 896.0,819.0 C889.4,817.4 882.8,814.2 877.5,811.0 C872.2,807.8 867.3,804.3 864.0,800.0 C860.7,795.7 859.0,789.3 857.5,785.0 C856.0,780.7 855.4,777.0 855.0,774.3 C854.6,771.6 854.9,771.2 855.1,768.7 C855.3,766.1 855.8,762.4 856.2,759.2 C856.6,756.0 857.2,752.7 857.5,749.4 C857.9,746.1 858.3,742.8 858.5,739.4 C858.8,736.1 859.1,732.6 859.1,729.2 C859.1,725.8 858.9,722.4 858.6,719.0 C858.3,715.6 857.7,712.2 857.1,708.9 C856.4,705.5 855.6,702.2 854.7,698.9 C853.9,695.5 852.9,692.2 851.8,688.9 C850.7,685.7 849.4,682.5 848.0,679.3 C846.6,676.1 845.1,673.0 843.6,669.8 C842.0,666.7 840.5,663.5 838.8,660.4 C837.1,657.3 835.4,654.3 833.6,651.2 C831.8,648.1 830.0,645.0 828.0,642.0 C826.1,639.0 824.0,636.0 821.8,633.2 C819.5,630.4 817.0,627.8 814.5,625.3 C812.0,622.7 809.4,620.2 806.6,617.9 C803.9,615.6 801.0,613.5 798.1,611.3 C795.2,609.2 792.2,607.2 789.2,605.2 C786.2,603.3 783.0,601.5 779.9,599.8 C776.8,598.0 773.6,596.4 770.4,594.8 C767.1,593.2 763.9,591.7 760.6,590.3 C757.3,588.9 753.9,587.6 750.6,586.4 C747.2,585.1 743.8,584.0 740.4,582.9 C737.0,581.9 733.5,580.9 730.0,580.1 C726.6,579.2 717.4,596.4 719.6,577.7 C721.7,559.1 736.3,485.7 742.9,468.0 Z" fill="#c05c59"/>
<path d="M740.4,479.7 C746.2,465.3 750.8,482.1 755.9,483.5 C761.0,484.9 766.2,486.4 771.2,488.1 C776.3,489.7 781.3,491.5 786.2,493.4 C791.2,495.3 796.1,497.4 801.0,499.5 C805.8,501.7 810.6,504.0 815.4,506.4 C820.1,508.8 824.8,511.4 829.4,514.0 C834.0,516.7 838.5,519.5 843.0,522.4 C847.4,525.3 851.8,528.3 856.1,531.5 C860.4,534.6 864.6,537.8 868.8,541.2 C872.9,544.5 876.9,548.0 880.9,551.6 C884.8,555.1 888.7,558.8 892.4,562.6 C896.2,566.3 899.9,570.2 903.4,574.1 C907.0,578.1 910.4,582.2 913.7,586.3 C917.1,590.4 920.3,594.6 923.4,599.0 C926.6,603.3 929.6,607.6 932.5,612.1 C935.3,616.6 938.1,621.1 940.8,625.7 C943.4,630.3 946.0,635.0 948.4,639.7 C950.8,644.5 953.0,649.3 955.2,654.1 C957.4,659.0 959.4,663.9 961.3,668.9 C963.2,673.8 965.1,678.8 966.8,683.9 C968.5,688.9 969.7,694.0 971.5,699.1 C973.4,704.1 975.6,709.0 977.7,714.1 C979.7,719.1 981.6,724.3 983.8,729.4 C986.1,734.5 988.9,739.7 991.1,745.0 C993.4,750.3 996.3,756.8 997.4,761.2 C998.5,765.6 998.3,769.5 997.9,771.3 C997.5,773.1 998.8,769.4 995.0,772.0 C991.2,774.6 981.7,782.5 975.0,787.0 C968.3,791.5 961.8,795.8 955.0,799.0 C948.2,802.2 940.7,804.2 934.0,806.0 C927.3,807.8 921.2,809.5 915.0,810.0 C908.8,810.5 902.7,810.3 897.0,809.0 C891.3,807.7 885.7,804.8 881.0,802.0 C876.3,799.2 871.7,795.7 869.0,792.0 C866.3,788.3 866.0,783.0 865.0,780.0 C864.0,777.0 863.3,776.1 863.0,774.1 C862.6,772.1 862.9,770.9 863.1,768.2 C863.3,765.6 863.8,761.7 864.2,758.3 C864.6,755.0 865.1,751.6 865.4,748.2 C865.8,744.7 866.1,741.3 866.3,737.8 C866.6,734.3 866.8,730.7 866.8,727.1 C866.8,723.6 866.6,720.0 866.2,716.5 C865.8,713.0 865.2,709.5 864.5,706.0 C863.8,702.5 863.0,699.1 862.1,695.6 C861.1,692.2 860.1,688.7 858.9,685.3 C857.7,681.9 856.4,678.6 854.9,675.3 C853.5,672.0 851.9,668.7 850.3,665.5 C848.7,662.2 847.0,659.0 845.3,655.7 C843.5,652.5 841.7,649.3 839.8,646.2 C837.9,643.0 836.1,639.7 834.0,636.6 C831.9,633.5 829.8,630.4 827.4,627.6 C825.1,624.7 822.5,622.0 819.9,619.3 C817.2,616.7 814.5,614.1 811.7,611.7 C808.8,609.3 805.8,607.1 802.8,604.9 C799.8,602.7 796.7,600.5 793.6,598.5 C790.4,596.5 787.2,594.6 783.9,592.8 C780.6,591.0 777.3,589.3 774.0,587.6 C770.6,586.0 767.2,584.5 763.8,583.0 C760.4,581.5 756.9,580.2 753.4,578.9 C749.9,577.6 746.4,576.4 742.8,575.3 C739.3,574.2 735.7,573.2 732.1,572.3 C728.5,571.4 719.8,585.4 721.2,569.9 C722.6,554.5 734.6,494.2 740.4,479.7 Z" fill="url(#rsgrad)"/>
<path d="M740.4,479.7 C743.0,480.4 750.8,482.1 755.9,483.5 C761.0,484.9 766.2,486.4 771.2,488.1 C776.3,489.7 781.3,491.5 786.2,493.4 C791.2,495.3 796.1,497.4 801.0,499.5 C805.8,501.7 810.6,504.0 815.4,506.4 C820.1,508.8 824.8,511.4 829.4,514.0 C834.0,516.7 838.5,519.5 843.0,522.4 C847.4,525.3 851.8,528.3 856.1,531.5 C860.4,534.6 864.6,537.8 868.8,541.2 C872.9,544.5 876.9,548.0 880.9,551.6 C884.8,555.1 888.7,558.8 892.4,562.6 C896.2,566.3 899.9,570.2 903.4,574.1 C907.0,578.1 910.4,582.2 913.7,586.3 C917.1,590.4 920.3,594.6 923.4,599.0 C926.6,603.3 929.6,607.6 932.5,612.1 C935.3,616.6 938.1,621.1 940.8,625.7 C943.4,630.3 946.0,635.0 948.4,639.7 C950.8,644.5 953.0,649.3 955.2,654.1 C957.4,659.0 959.4,663.9 961.3,668.9 C963.2,673.8 965.1,678.8 966.8,683.9 C968.5,688.9 969.7,694.0 971.5,699.1 C973.4,704.1 975.6,709.0 977.7,714.1 C979.7,719.1 981.6,724.3 983.8,729.4 C986.1,734.5 988.9,739.7 991.1,745.0 C993.4,750.3 996.3,756.8 997.4,761.2 C998.5,765.6 997.8,769.6 997.9,771.3" fill="none" stroke="#8e3836" stroke-width="1.3" opacity="0.55"/>
<path d="M721.2,569.9 C723.0,570.3 728.5,571.4 732.1,572.3 C735.7,573.2 739.3,574.2 742.8,575.3 C746.4,576.4 749.9,577.6 753.4,578.9 C756.9,580.2 760.4,581.5 763.8,583.0 C767.2,584.5 770.6,586.0 774.0,587.6 C777.3,589.3 780.6,591.0 783.9,592.8 C787.2,594.6 790.4,596.5 793.6,598.5 C796.7,600.5 799.8,602.7 802.8,604.9 C805.8,607.1 808.8,609.3 811.7,611.7 C814.5,614.1 817.2,616.7 819.9,619.3 C822.5,622.0 825.1,624.7 827.4,627.6 C829.8,630.4 831.9,633.5 834.0,636.6 C836.1,639.7 837.9,643.0 839.8,646.2 C841.7,649.3 843.5,652.5 845.3,655.7 C847.0,659.0 848.7,662.2 850.3,665.5 C851.9,668.7 853.5,672.0 854.9,675.3 C856.4,678.6 857.7,681.9 858.9,685.3 C860.1,688.7 861.1,692.2 862.1,695.6 C863.0,699.1 863.8,702.5 864.5,706.0 C865.2,709.5 865.8,713.0 866.2,716.5 C866.6,720.0 866.8,723.6 866.8,727.1 C866.8,730.7 866.6,734.3 866.3,737.8 C866.1,741.3 865.8,744.7 865.4,748.2 C865.1,751.6 864.6,755.0 864.2,758.3 C863.8,761.7 863.3,765.6 863.1,768.2 C862.9,770.9 863.0,773.1 863.0,774.1" fill="none" stroke="#8e3836" stroke-width="1.2" opacity="0.6"/>
<path d="M736.8,538.3 C739.5,539.1 747.9,541.3 753.3,543.1 C758.8,544.9 764.2,546.8 769.5,549.0 C774.9,551.1 780.1,553.5 785.3,556.0 C790.4,558.5 795.5,561.2 800.5,564.1 C805.5,567.0 810.4,570.0 815.1,573.2 C819.9,576.4 824.5,579.8 829.1,583.4 C833.6,586.9 838.0,590.6 842.3,594.4 C846.5,598.3 850.7,602.3 854.7,606.4 C858.7,610.6 862.5,614.8 866.2,619.2 C869.9,623.6 873.5,628.2 876.8,632.8 C880.2,637.5 883.4,642.2 886.5,647.1 C889.5,652.0 892.4,657.0 895.1,662.0 C897.8,667.1 901.4,675.0 902.6,677.5" fill="none" stroke="#7e2e2d" stroke-width="1.1" opacity="0.55"/>
<path d="M742.8,514.1 C745.8,515.0 755.0,517.4 761.1,519.3 C767.1,521.3 773.0,523.4 778.9,525.8 C784.8,528.2 790.6,530.8 796.2,533.5 C801.9,536.3 807.5,539.3 813.0,542.4 C818.5,545.6 823.9,549.0 829.1,552.5 C834.3,556.0 839.5,559.8 844.5,563.7 C849.4,567.6 854.3,571.6 859.0,575.9 C863.7,580.1 868.3,584.5 872.7,589.1 C877.1,593.6 881.3,598.3 885.4,603.2 C889.4,608.0 893.3,613.0 897.1,618.1 C900.8,623.2 904.3,628.5 907.7,633.9 C911.0,639.2 914.2,644.7 917.2,650.3 C920.1,655.9 924.1,664.5 925.5,667.4" fill="none" stroke="#7e2e2d" stroke-width="1.1" opacity="0.55"/>
<clipPath id="rsclip"><path d="M740.4,479.7 C746.2,465.3 750.8,482.1 755.9,483.5 C761.0,484.9 766.2,486.4 771.2,488.1 C776.3,489.7 781.3,491.5 786.2,493.4 C791.2,495.3 796.1,497.4 801.0,499.5 C805.8,501.7 810.6,504.0 815.4,506.4 C820.1,508.8 824.8,511.4 829.4,514.0 C834.0,516.7 838.5,519.5 843.0,522.4 C847.4,525.3 851.8,528.3 856.1,531.5 C860.4,534.6 864.6,537.8 868.8,541.2 C872.9,544.5 876.9,548.0 880.9,551.6 C884.8,555.1 888.7,558.8 892.4,562.6 C896.2,566.3 899.9,570.2 903.4,574.1 C907.0,578.1 910.4,582.2 913.7,586.3 C917.1,590.4 920.3,594.6 923.4,599.0 C926.6,603.3 929.6,607.6 932.5,612.1 C935.3,616.6 938.1,621.1 940.8,625.7 C943.4,630.3 946.0,635.0 948.4,639.7 C950.8,644.5 953.0,649.3 955.2,654.1 C957.4,659.0 959.4,663.9 961.3,668.9 C963.2,673.8 965.1,678.8 966.8,683.9 C968.5,688.9 969.7,694.0 971.5,699.1 C973.4,704.1 975.6,709.0 977.7,714.1 C979.7,719.1 981.6,724.3 983.8,729.4 C986.1,734.5 988.9,739.7 991.1,745.0 C993.4,750.3 996.3,756.8 997.4,761.2 C998.5,765.6 998.3,769.5 997.9,771.3 C997.5,773.1 998.8,769.4 995.0,772.0 C991.2,774.6 981.7,782.5 975.0,787.0 C968.3,791.5 961.8,795.8 955.0,799.0 C948.2,802.2 940.7,804.2 934.0,806.0 C927.3,807.8 921.2,809.5 915.0,810.0 C908.8,810.5 902.7,810.3 897.0,809.0 C891.3,807.7 885.7,804.8 881.0,802.0 C876.3,799.2 871.7,795.7 869.0,792.0 C866.3,788.3 866.0,783.0 865.0,780.0 C864.0,777.0 863.3,776.1 863.0,774.1 C862.6,772.1 862.9,770.9 863.1,768.2 C863.3,765.6 863.8,761.7 864.2,758.3 C864.6,755.0 865.1,751.6 865.4,748.2 C865.8,744.7 866.1,741.3 866.3,737.8 C866.6,734.3 866.8,730.7 866.8,727.1 C866.8,723.6 866.6,720.0 866.2,716.5 C865.8,713.0 865.2,709.5 864.5,706.0 C863.8,702.5 863.0,699.1 862.1,695.6 C861.1,692.2 860.1,688.7 858.9,685.3 C857.7,681.9 856.4,678.6 854.9,675.3 C853.5,672.0 851.9,668.7 850.3,665.5 C848.7,662.2 847.0,659.0 845.3,655.7 C843.5,652.5 841.7,649.3 839.8,646.2 C837.9,643.0 836.1,639.7 834.0,636.6 C831.9,633.5 829.8,630.4 827.4,627.6 C825.1,624.7 822.5,622.0 819.9,619.3 C817.2,616.7 814.5,614.1 811.7,611.7 C808.8,609.3 805.8,607.1 802.8,604.9 C799.8,602.7 796.7,600.5 793.6,598.5 C790.4,596.5 787.2,594.6 783.9,592.8 C780.6,591.0 777.3,589.3 774.0,587.6 C770.6,586.0 767.2,584.5 763.8,583.0 C760.4,581.5 756.9,580.2 753.4,578.9 C749.9,577.6 746.4,576.4 742.8,575.3 C739.3,574.2 735.7,573.2 732.1,572.3 C728.5,571.4 719.8,585.4 721.2,569.9 C722.6,554.5 734.6,494.2 740.4,479.7 Z"/></clipPath><g clip-path="url(#rsclip)">
<path d="M896.3,671.0 C897.0,673.0 899.4,679.0 900.6,683.1 C901.8,687.2 902.8,691.3 903.7,695.5 C904.6,699.6 905.4,703.8 905.9,708.0 C906.5,712.2 907.0,716.4 907.3,720.6 C907.6,724.8 907.7,729.0 907.7,733.1 C907.8,737.3 907.7,741.5 907.4,745.6 C907.2,749.7 906.8,753.9 906.3,757.9 C905.8,762.0 905.2,766.1 904.4,770.1 C903.7,774.1 902.8,778.0 901.8,781.9 C900.8,785.8 899.0,791.6 898.5,793.5" fill="none" stroke="#8f3836" stroke-width="0.9" opacity="0.5"/>
<path d="M897.1,671.3 C897.8,673.3 900.2,679.3 901.4,683.4 C902.6,687.5 903.6,691.6 904.5,695.8 C905.4,699.9 906.2,704.1 906.7,708.3 C907.3,712.5 907.8,716.7 908.1,720.9 C908.4,725.1 908.5,729.3 908.5,733.4 C908.6,737.6 908.5,741.8 908.2,745.9 C908.0,750.0 907.6,754.2 907.1,758.2 C906.6,762.3 906.0,766.4 905.2,770.4 C904.5,774.4 903.6,778.3 902.6,782.2 C901.6,786.1 899.8,791.9 899.3,793.8" fill="none" stroke="#ca6561" stroke-width="0.8" opacity="0.45"/>
<path d="M899.2,669.6 C900.0,671.6 902.4,677.6 903.8,681.7 C905.2,685.8 906.4,690.0 907.5,694.1 C908.5,698.3 909.5,702.5 910.3,706.7 C911.1,710.9 911.7,715.1 912.2,719.4 C912.8,723.6 913.1,727.8 913.4,732.0 C913.7,736.3 913.8,740.5 913.8,744.7 C913.8,748.9 913.7,753.1 913.4,757.3 C913.2,761.5 912.8,765.7 912.3,769.8 C911.8,773.9 911.2,778.0 910.5,782.1 C909.7,786.1 908.4,792.1 907.9,794.1" fill="none" stroke="#8f3836" stroke-width="0.9" opacity="0.5"/>
<path d="M900.0,669.9 C900.8,671.9 903.2,677.9 904.6,682.0 C906.0,686.1 907.2,690.3 908.3,694.4 C909.3,698.6 910.3,702.8 911.1,707.0 C911.9,711.2 912.5,715.4 913.0,719.7 C913.6,723.9 913.9,728.1 914.2,732.3 C914.5,736.6 914.6,740.8 914.6,745.0 C914.6,749.2 914.5,753.4 914.2,757.6 C914.0,761.8 913.6,766.0 913.1,770.1 C912.6,774.2 912.0,778.3 911.3,782.4 C910.5,786.4 909.2,792.4 908.7,794.4" fill="none" stroke="#ca6561" stroke-width="0.8" opacity="0.45"/>
<path d="M902.1,668.2 C902.9,670.3 905.5,676.3 907.1,680.3 C908.6,684.4 910.0,688.6 911.2,692.8 C912.5,696.9 913.6,701.1 914.6,705.4 C915.6,709.6 916.4,713.8 917.2,718.1 C917.9,722.4 918.6,726.7 919.1,730.9 C919.5,735.2 919.9,739.5 920.2,743.8 C920.4,748.1 920.5,752.4 920.6,756.7 C920.6,761.0 920.5,765.3 920.2,769.5 C920.0,773.8 919.6,778.0 919.2,782.2 C918.7,786.4 917.7,792.7 917.4,794.8" fill="none" stroke="#8f3836" stroke-width="0.9" opacity="0.5"/>
<path d="M902.9,668.5 C903.7,670.6 906.3,676.6 907.9,680.6 C909.4,684.7 910.8,688.9 912.0,693.1 C913.3,697.2 914.4,701.4 915.4,705.7 C916.4,709.9 917.2,714.1 918.0,718.4 C918.7,722.7 919.4,727.0 919.9,731.2 C920.3,735.5 920.7,739.8 921.0,744.1 C921.2,748.4 921.3,752.7 921.4,757.0 C921.4,761.3 921.3,765.6 921.0,769.8 C920.8,774.1 920.4,778.3 920.0,782.5 C919.5,786.7 918.5,793.0 918.2,795.1" fill="none" stroke="#ca6561" stroke-width="0.8" opacity="0.45"/>
<path d="M904.9,666.8 C905.8,668.9 908.6,674.9 910.3,679.0 C912.0,683.1 913.5,687.2 914.9,691.4 C916.4,695.6 917.7,699.8 918.9,704.0 C920.1,708.3 921.2,712.6 922.2,716.9 C923.1,721.2 924.0,725.5 924.7,729.9 C925.4,734.2 926.1,738.6 926.6,742.9 C927.0,747.3 927.4,751.7 927.7,756.1 C928.0,760.5 928.1,764.8 928.1,769.2 C928.2,773.6 928.1,778.0 927.9,782.4 C927.7,786.8 927.1,793.3 926.9,795.5" fill="none" stroke="#8f3836" stroke-width="0.9" opacity="0.5"/>
<path d="M905.7,667.1 C906.6,669.2 909.4,675.2 911.1,679.3 C912.8,683.4 914.3,687.5 915.7,691.7 C917.2,695.9 918.5,700.1 919.7,704.3 C920.9,708.6 922.0,712.9 923.0,717.2 C923.9,721.5 924.8,725.8 925.5,730.2 C926.2,734.5 926.9,738.9 927.4,743.2 C927.8,747.6 928.2,752.0 928.5,756.4 C928.8,760.8 928.9,765.1 928.9,769.5 C929.0,773.9 928.9,778.3 928.7,782.7 C928.5,787.1 927.9,793.6 927.7,795.8" fill="none" stroke="#ca6561" stroke-width="0.8" opacity="0.45"/>
<path d="M907.8,665.4 C908.8,667.5 911.7,673.5 913.5,677.6 C915.3,681.7 917.1,685.8 918.7,690.0 C920.3,694.2 921.8,698.5 923.2,702.7 C924.6,707.0 925.9,711.3 927.1,715.6 C928.3,720.0 929.4,724.4 930.4,728.8 C931.3,733.2 932.2,737.6 932.9,742.0 C933.7,746.5 934.3,751.0 934.8,755.4 C935.3,759.9 935.7,764.4 936.0,769.0 C936.3,773.5 936.5,778.0 936.6,782.5 C936.6,787.1 936.4,793.9 936.4,796.1" fill="none" stroke="#8f3836" stroke-width="0.9" opacity="0.5"/>
<path d="M908.6,665.7 C909.6,667.8 912.5,673.8 914.3,677.9 C916.1,682.0 917.9,686.1 919.5,690.3 C921.1,694.5 922.6,698.8 924.0,703.0 C925.4,707.3 926.7,711.6 927.9,715.9 C929.1,720.3 930.2,724.7 931.2,729.1 C932.1,733.5 933.0,737.9 933.7,742.3 C934.5,746.8 935.1,751.3 935.6,755.7 C936.1,760.2 936.5,764.7 936.8,769.3 C937.1,773.8 937.3,778.3 937.4,782.8 C937.4,787.4 937.2,794.2 937.2,796.4" fill="none" stroke="#ca6561" stroke-width="0.8" opacity="0.45"/>
<path d="M910.7,664.0 C911.7,666.1 914.8,672.1 916.8,676.2 C918.7,680.3 920.6,684.5 922.4,688.7 C924.2,692.9 925.9,697.1 927.5,701.4 C929.1,705.7 930.7,710.0 932.1,714.4 C933.5,718.8 934.8,723.2 936.0,727.7 C937.2,732.1 938.3,736.6 939.3,741.1 C940.3,745.7 941.2,750.2 942.0,754.8 C942.7,759.4 943.4,764.0 943.9,768.7 C944.5,773.3 944.9,778.0 945.2,782.7 C945.6,787.4 945.7,794.4 945.8,796.8" fill="none" stroke="#8f3836" stroke-width="0.9" opacity="0.5"/>
<path d="M911.5,664.3 C912.5,666.4 915.6,672.4 917.6,676.5 C919.5,680.6 921.4,684.8 923.2,689.0 C925.0,693.2 926.7,697.4 928.3,701.7 C929.9,706.0 931.5,710.3 932.9,714.7 C934.3,719.1 935.6,723.5 936.8,728.0 C938.0,732.4 939.1,736.9 940.1,741.4 C941.1,746.0 942.0,750.5 942.8,755.1 C943.5,759.7 944.2,764.3 944.7,769.0 C945.3,773.6 945.7,778.3 946.0,783.0 C946.4,787.7 946.5,794.7 946.6,797.1" fill="none" stroke="#ca6561" stroke-width="0.8" opacity="0.45"/>
<path d="M913.6,662.6 C914.6,664.7 917.9,670.7 920.0,674.9 C922.1,679.0 924.2,683.1 926.2,687.3 C928.1,691.5 930.0,695.8 931.9,700.1 C933.7,704.4 935.4,708.8 937.0,713.2 C938.7,717.6 940.2,722.0 941.7,726.6 C943.1,731.1 944.5,735.6 945.7,740.2 C946.9,744.8 948.1,749.5 949.1,754.2 C950.1,758.9 951.0,763.6 951.9,768.4 C952.7,773.2 953.4,778.0 953.9,782.8 C954.5,787.7 955.1,795.0 955.3,797.5" fill="none" stroke="#8f3836" stroke-width="0.9" opacity="0.5"/>
<path d="M914.4,662.9 C915.4,665.0 918.7,671.0 920.8,675.2 C922.9,679.3 925.0,683.4 927.0,687.6 C928.9,691.8 930.8,696.1 932.7,700.4 C934.5,704.7 936.2,709.1 937.8,713.5 C939.5,717.9 941.0,722.3 942.5,726.9 C943.9,731.4 945.3,735.9 946.5,740.5 C947.7,745.1 948.9,749.8 949.9,754.5 C950.9,759.2 951.8,763.9 952.7,768.7 C953.5,773.5 954.2,778.3 954.7,783.1 C955.3,788.0 955.9,795.3 956.1,797.8" fill="none" stroke="#ca6561" stroke-width="0.8" opacity="0.45"/>
<path d="M916.4,661.2 C917.6,663.3 921.0,669.4 923.2,673.5 C925.5,677.6 927.7,681.7 929.9,686.0 C932.1,690.2 934.2,694.4 936.2,698.8 C938.2,703.1 940.1,707.5 942.0,711.9 C943.9,716.4 945.6,720.9 947.3,725.5 C949.0,730.0 950.6,734.7 952.1,739.3 C953.6,744.0 955.0,748.8 956.2,753.6 C957.5,758.4 958.7,763.2 959.8,768.1 C960.8,773.0 961.8,778.0 962.6,783.0 C963.5,788.0 964.4,795.6 964.8,798.1" fill="none" stroke="#8f3836" stroke-width="0.9" opacity="0.5"/>
<path d="M917.2,661.5 C918.4,663.6 921.8,669.7 924.0,673.8 C926.3,677.9 928.5,682.0 930.7,686.3 C932.9,690.5 935.0,694.7 937.0,699.1 C939.0,703.4 940.9,707.8 942.8,712.2 C944.7,716.7 946.4,721.2 948.1,725.8 C949.8,730.3 951.4,735.0 952.9,739.6 C954.4,744.3 955.8,749.1 957.0,753.9 C958.3,758.7 959.5,763.5 960.6,768.4 C961.6,773.3 962.6,778.3 963.4,783.3 C964.3,788.3 965.2,795.9 965.6,798.4" fill="none" stroke="#ca6561" stroke-width="0.8" opacity="0.45"/>
<path d="M919.3,659.8 C920.5,661.9 924.1,668.0 926.5,672.1 C928.9,676.2 931.3,680.4 933.6,684.6 C936.0,688.8 938.3,693.1 940.5,697.4 C942.7,701.8 944.9,706.2 947.0,710.7 C949.0,715.2 951.1,719.7 953.0,724.4 C954.9,729.0 956.7,733.7 958.5,738.4 C960.2,743.2 961.8,748.0 963.4,752.9 C964.9,757.8 966.3,762.8 967.7,767.8 C969.0,772.9 970.2,778.0 971.3,783.1 C972.4,788.3 973.8,796.2 974.3,798.8" fill="none" stroke="#8f3836" stroke-width="0.9" opacity="0.5"/>
<path d="M920.1,660.1 C921.3,662.2 924.9,668.3 927.3,672.4 C929.7,676.5 932.1,680.7 934.4,684.9 C936.8,689.1 939.1,693.4 941.3,697.7 C943.5,702.1 945.7,706.5 947.8,711.0 C949.8,715.5 951.9,720.0 953.8,724.7 C955.7,729.3 957.5,734.0 959.3,738.7 C961.0,743.5 962.6,748.3 964.2,753.2 C965.7,758.1 967.1,763.1 968.5,768.1 C969.8,773.2 971.0,778.3 972.1,783.4 C973.2,788.6 974.6,796.5 975.1,799.1" fill="none" stroke="#ca6561" stroke-width="0.8" opacity="0.45"/>
<path d="M922.2,658.4 C923.4,660.5 927.2,666.6 929.7,670.7 C932.2,674.9 934.9,679.0 937.4,683.2 C939.9,687.5 942.4,691.7 944.8,696.1 C947.2,700.5 949.6,704.9 951.9,709.5 C954.2,714.0 956.5,718.6 958.6,723.3 C960.8,727.9 962.9,732.7 964.8,737.5 C966.8,742.4 968.7,747.3 970.5,752.3 C972.3,757.3 974.0,762.4 975.6,767.6 C977.2,772.7 978.7,778.0 980.0,783.3 C981.4,788.6 983.1,796.8 983.8,799.5" fill="none" stroke="#8f3836" stroke-width="0.9" opacity="0.5"/>
<path d="M923.0,658.7 C924.2,660.8 928.0,666.9 930.5,671.0 C933.0,675.2 935.7,679.3 938.2,683.5 C940.7,687.8 943.2,692.0 945.6,696.4 C948.0,700.8 950.4,705.2 952.7,709.8 C955.0,714.3 957.3,718.9 959.4,723.6 C961.6,728.2 963.7,733.0 965.6,737.8 C967.6,742.7 969.5,747.6 971.3,752.6 C973.1,757.6 974.8,762.7 976.4,767.9 C978.0,773.0 979.5,778.3 980.8,783.6 C982.2,788.9 983.9,797.1 984.6,799.8" fill="none" stroke="#ca6561" stroke-width="0.8" opacity="0.45"/>
</g>
<clipPath id="rsall"><path d="M742.9,468.0 C749.5,450.4 753.7,470.5 759.0,471.9 C764.4,473.3 769.7,474.9 774.9,476.6 C780.2,478.4 785.4,480.2 790.5,482.2 C795.7,484.2 800.8,486.3 805.9,488.6 C810.9,490.8 815.9,493.2 820.8,495.7 C825.7,498.2 830.6,500.9 835.4,503.7 C840.2,506.4 844.9,509.3 849.5,512.3 C854.2,515.4 858.7,518.5 863.2,521.7 C867.6,525.0 872.0,528.4 876.3,531.9 C880.6,535.3 884.8,538.9 888.9,542.6 C893.0,546.3 897.0,550.2 900.9,554.1 C904.8,558.0 908.6,562.0 912.3,566.1 C916.0,570.2 919.6,574.4 923.1,578.7 C926.5,583.0 929.9,587.4 933.1,591.9 C936.4,596.4 939.5,600.9 942.5,605.6 C945.5,610.2 948.4,614.9 951.2,619.7 C953.9,624.5 956.5,629.4 959.0,634.3 C961.5,639.2 963.9,644.2 966.2,649.3 C968.4,654.3 970.5,659.4 972.5,664.6 C974.5,669.7 976.4,674.9 978.2,680.1 C979.9,685.4 981.3,690.7 983.1,696.0 C985.0,701.2 987.3,706.3 989.4,711.6 C991.5,716.9 993.4,722.2 995.7,727.5 C998.0,732.9 1000.8,738.2 1003.1,743.7 C1005.3,749.2 1008.2,756.0 1009.4,760.6 C1010.5,765.1 1011.0,768.0 1009.9,771.0 C1008.9,774.1 1006.3,776.2 1003.0,779.0 C999.7,781.8 994.2,785.3 990.0,788.0 C985.8,790.7 983.3,791.9 977.8,795.3 C972.2,798.7 963.7,805.0 956.7,808.5 C949.7,812.0 942.2,814.4 935.6,816.4 C929.0,818.4 923.6,820.0 917.0,820.4 C910.4,820.8 902.6,820.6 896.0,819.0 C889.4,817.4 882.8,814.2 877.5,811.0 C872.2,807.8 867.3,804.3 864.0,800.0 C860.7,795.7 859.0,789.3 857.5,785.0 C856.0,780.7 855.4,777.0 855.0,774.3 C854.6,771.6 854.9,771.2 855.1,768.7 C855.3,766.1 855.8,762.4 856.2,759.2 C856.6,756.0 857.2,752.7 857.5,749.4 C857.9,746.1 858.3,742.8 858.5,739.4 C858.8,736.1 859.1,732.6 859.1,729.2 C859.1,725.8 858.9,722.4 858.6,719.0 C858.3,715.6 857.7,712.2 857.1,708.9 C856.4,705.5 855.6,702.2 854.7,698.9 C853.9,695.5 852.9,692.2 851.8,688.9 C850.7,685.7 849.4,682.5 848.0,679.3 C846.6,676.1 845.1,673.0 843.6,669.8 C842.0,666.7 840.5,663.5 838.8,660.4 C837.1,657.3 835.4,654.3 833.6,651.2 C831.8,648.1 830.0,645.0 828.0,642.0 C826.1,639.0 824.0,636.0 821.8,633.2 C819.5,630.4 817.0,627.8 814.5,625.3 C812.0,622.7 809.4,620.2 806.6,617.9 C803.9,615.6 801.0,613.5 798.1,611.3 C795.2,609.2 792.2,607.2 789.2,605.2 C786.2,603.3 783.0,601.5 779.9,599.8 C776.8,598.0 773.6,596.4 770.4,594.8 C767.1,593.2 763.9,591.7 760.6,590.3 C757.3,588.9 753.9,587.6 750.6,586.4 C747.2,585.1 743.8,584.0 740.4,582.9 C737.0,581.9 733.5,580.9 730.0,580.1 C726.6,579.2 717.4,596.4 719.6,577.7 C721.7,559.1 736.3,485.7 742.9,468.0 Z"/></clipPath>
<polygon points="821.1,429.8 701.1,637.7 732.3,655.7 852.3,447.8" fill="url(#rsentry)" clip-path="url(#rsall)"/>
</g>
<g filter="url(#blur1)"><path d="M502,57 L600,52.5 L688,51 Q695,52 696,63 L506,63 Z" fill="#c9c9c2"/><path d="M502,57 L506,63 L506,187 L502,187 Z" fill="#d0d0d0"/></g>
<g>
<path d="M506.5,63 L686,63 Q693.5,63 693.5,70.5 L693.5,185.5 L506.5,185.5 Z" fill="#382a1a"/>
<rect x="506.5" y="63" width="65" height="122.5" fill="#2d2215"/>
<rect x="571.5" y="63" width="3" height="122.5" fill="#1a130b"/>
<rect x="505.5" y="64" width="1.5" height="121" fill="#d6ccc6"/>
<rect x="512" y="66" width="57" height="112" fill="url(#sqdots)"/>
<g fill="url(#sqdots3)">
<rect x="585" y="74" width="22" height="28"/>
<rect x="612" y="74" width="71" height="22"/>
<rect x="660" y="102" width="23" height="74"/>
<rect x="612" y="102" width="45" height="44"/>
</g>
<rect x="595" y="151" width="62" height="24" fill="url(#sqdots3)" opacity="0.5"/>
<rect x="574.5" y="178" width="119" height="7.5" fill="#241b11"/>
<path d="M538,150 L552,150 L556,185 L540,185 Z" fill="#1f170e" opacity="0.6"/>
<path d="M676,150 L688,152 L693,185 L680,185 Z" fill="#1f170e" opacity="0.6"/>
<rect x="575" y="185.5" width="119" height="119" fill="#312617"/>
<rect x="578" y="189" width="112" height="50" fill="url(#sqdots2)"/>
<rect x="578" y="247" width="112" height="53" fill="url(#sqdots2)"/>
<rect x="684" y="189" width="6" height="111" fill="url(#sqdots4)"/>
<rect x="575" y="239" width="119" height="6" fill="#1c140b"/>
<rect x="566" y="186.5" width="8.5" height="119" rx="3.5" fill="#d9d3c9"/>
<rect x="568" y="188" width="5.5" height="115" rx="2.5" fill="#e9e4dc"/>
<rect x="694" y="186.5" width="8.5" height="119" rx="3.5" fill="#d9d3c9"/>
<rect x="695.5" y="188" width="5.5" height="115" rx="2.5" fill="#e9e4dc"/>
<rect x="550" y="55" width="61.5" height="5.5" rx="2.75" fill="#e6dfd3" stroke="#c9c1b5" stroke-width="0.8"/>
<rect x="556" y="300.5" width="16" height="5.5" rx="2" fill="#ddd7cd"/>
<rect x="697" y="300.5" width="16" height="5.5" rx="2" fill="#ddd7cd"/>
</g>
<polygon points="816.8,461.3 726.2,618.2 545.0,618.2 454.4,461.3 545.0,304.4 726.2,304.4" fill="#2e2416"/>
<clipPath id="hexin"><polygon points="804.8,461.3 720.2,607.8 551.0,607.8 466.4,461.3 551.0,314.8 720.2,314.8"/></clipPath>
<g clip-path="url(#hexin)"><rect x="440" y="290" width="390" height="340" fill="url(#dots)"/></g>
<clipPath id="hexc"><polygon points="816.8,461.3 726.2,618.2 545.0,618.2 454.4,461.3 545.0,304.4 726.2,304.4"/></clipPath><g clip-path="url(#hexc)">
<rect x="445.6" y="446.9" width="380" height="27.2" fill="#2d2315" transform="rotate(0 635.6 460.5)"/>
<rect x="445.6" y="446.9" width="380" height="27.2" fill="#2d2315" transform="rotate(60 635.6 460.5)"/>
<rect x="445.6" y="446.9" width="380" height="27.2" fill="#2d2315" transform="rotate(120 635.6 460.5)"/>
</g>
<line x1="533" y1="314" x2="460" y2="451" stroke="#e4ded3" stroke-width="4" stroke-linecap="round"/>
<line x1="534.5" y1="315" x2="461.5" y2="452" stroke="#a9a398" stroke-width="1" opacity="0.7"/>
<line x1="463.5" y1="475" x2="536.5" y2="600.5" stroke="#1fa8a4" stroke-width="13.5" stroke-linecap="round"/>
<line x1="463.5" y1="475" x2="536.5" y2="600.5" stroke="#2cc0ba" stroke-width="9.5" stroke-linecap="round"/>
<circle cx="485.4" cy="512.6" r="5.2" fill="#3fd0c8" opacity="0.6"/>
<circle cx="500.0" cy="537.8" r="5.2" fill="#3fd0c8" opacity="0.6"/>
<circle cx="514.6" cy="562.9" r="5.2" fill="#3fd0c8" opacity="0.6"/>
<line x1="564" y1="618" x2="708" y2="618" stroke="#1fa8a4" stroke-width="14.5" stroke-linecap="round"/>
<line x1="564" y1="618" x2="708" y2="618" stroke="#2cc0ba" stroke-width="10.5" stroke-linecap="round"/>
<circle cx="607.2" cy="618.0" r="5.8" fill="#3fd0c8" opacity="0.6"/>
<circle cx="636.0" cy="618.0" r="5.8" fill="#3fd0c8" opacity="0.6"/>
<circle cx="664.8" cy="618.0" r="5.8" fill="#3fd0c8" opacity="0.6"/>
<line x1="636" y1="612" x2="636" y2="624" stroke="#1a9a96" stroke-width="1.2" opacity="0.7"/>
<line x1="808" y1="476.5" x2="735" y2="601.5" stroke="#1fa8a4" stroke-width="13.5" stroke-linecap="round"/>
<line x1="808" y1="476.5" x2="735" y2="601.5" stroke="#2cc0ba" stroke-width="9.5" stroke-linecap="round"/>
<circle cx="786.1" cy="514.0" r="5.2" fill="#3fd0c8" opacity="0.6"/>
<circle cx="771.5" cy="539.0" r="5.2" fill="#3fd0c8" opacity="0.6"/>
<circle cx="756.9" cy="564.0" r="5.2" fill="#3fd0c8" opacity="0.6"/>
<line x1="504" y1="380.5" x2="513" y2="383" stroke="#a8a094" stroke-width="3"/>
<line x1="538.5" y1="353" x2="496" y2="423" stroke="#bdb5a8" stroke-width="10.5" stroke-linecap="round"/>
<line x1="538.5" y1="353" x2="496" y2="423" stroke="#ddd6ca" stroke-width="8" stroke-linecap="round"/>
<line x1="539.5" y1="354" x2="497" y2="424" stroke="#ebe5dc" stroke-width="3.5" stroke-linecap="round" opacity="0.8"/>
<line x1="527.4" y1="361.6" x2="536.0" y2="366.8" stroke="#b3ab9e" stroke-width="1.1"/>
<line x1="519.8" y1="374.2" x2="528.3" y2="379.4" stroke="#b3ab9e" stroke-width="1.1"/>
<line x1="506.1" y1="396.6" x2="514.8" y2="401.8" stroke="#b3ab9e" stroke-width="1.1"/>
<line x1="498.5" y1="409.2" x2="507.1" y2="414.4" stroke="#b3ab9e" stroke-width="1.1"/>
<circle cx="517" cy="388" r="6" fill="#e4ddd2" stroke="#b5ad9f" stroke-width="0.8"/>
<circle cx="517.5" cy="387.5" r="3" fill="#f2ede6"/>
<polygon points="743,357 752,352.5 786,411 776,416" fill="#d6d1c8" stroke="#bdb7ad" stroke-width="1"/>
<line x1="757" y1="359" x2="781" y2="404" stroke="#b2ac a2" stroke-width="0"/>
<line x1="766" y1="383" x2="855" y2="333" stroke="#b9b2a6" stroke-width="7" stroke-linecap="round"/>
<line x1="766" y1="382" x2="855" y2="332" stroke="#e2dbcf" stroke-width="4.5" stroke-linecap="round"/>
<rect x="851" y="329" width="9" height="8" fill="#cfc9bf" transform="rotate(-30 855 333)"/>
<circle cx="858" cy="291" r="22" fill="#e6dacb"/>
<clipPath id="disc1"><circle cx="858" cy="291" r="22"/></clipPath>
<circle cx="873" cy="307" r="22" fill="#7e776c" clip-path="url(#disc1)"/>
<circle cx="879" cy="313" r="22" fill="#ebe0d3"/>
<clipPath id="disc2"><circle cx="879" cy="313" r="22"/></clipPath>
<circle cx="880" cy="336" r="23" fill="#7e776c" clip-path="url(#disc2)"/>
<circle cx="885" cy="342" r="23" fill="#f1e6da"/>
<line x1="433" y1="438" x2="452" y2="457" stroke="#5a4a42" stroke-width="3"/>
<g transform="rotate(-30 419 419)"><rect x="397.5" y="396" width="43" height="47" rx="19" fill="#a39b8e"/><rect x="399" y="397" width="40" height="44" rx="18" fill="#b1a99c"/><ellipse cx="419" cy="413" rx="21" ry="17.5" fill="#c3bbae"/><g filter="url(#blur3)"><ellipse cx="425" cy="409" rx="11" ry="9" fill="#d2cbbf" opacity="0.9"/><ellipse cx="409" cy="419" rx="9" ry="8" fill="#aba395" opacity="0.7"/></g></g>
<rect x="541.5" y="626" width="5" height="12" fill="#6a5a55"/>
<rect x="531" y="635" width="33" height="9" rx="3.5" fill="#d6d1c8" stroke="#bcb6ac" stroke-width="0.8"/>
<path d="M540,652 L556,648 L556,668 L540,672 Z" fill="#a8a399"/>
<circle cx="530" cy="663.5" r="17.5" fill="#a6a197"/><circle cx="530" cy="663.5" r="14.5" fill="url(#bong)"/>
<circle cx="567" cy="658" r="14.5" fill="#a6a197"/><circle cx="567" cy="658" r="11.5" fill="url(#bong)"/>
<g transform="translate(816.8,461.3)"><circle cx="0.0" cy="-11.0" r="2.1" fill="#4c2a28"/><circle cx="9.5" cy="-5.5" r="2.1" fill="#4c2a28"/><circle cx="9.5" cy="5.5" r="2.1" fill="#4c2a28"/><circle cx="0.0" cy="11.0" r="2.1" fill="#4c2a28"/><circle cx="-9.5" cy="5.5" r="2.1" fill="#4c2a28"/><circle cx="-9.5" cy="-5.5" r="2.1" fill="#4c2a28"/><circle r="10.2" fill="#5c3230"/><circle r="8.4" fill="#85504c"/><path d="M-7.5,3.5 A8.2,8.2 0 0 0 7.5,3.5" fill="none" stroke="#c09894" stroke-width="1"/><circle r="5" fill="#8d5753"/><circle r="1.3" fill="#f2e2dc"/></g>
<g transform="translate(726.2,618.2)"><circle cx="0.0" cy="-11.0" r="2.1" fill="#4c2a28"/><circle cx="9.5" cy="-5.5" r="2.1" fill="#4c2a28"/><circle cx="9.5" cy="5.5" r="2.1" fill="#4c2a28"/><circle cx="0.0" cy="11.0" r="2.1" fill="#4c2a28"/><circle cx="-9.5" cy="5.5" r="2.1" fill="#4c2a28"/><circle cx="-9.5" cy="-5.5" r="2.1" fill="#4c2a28"/><circle r="10.2" fill="#5c3230"/><circle r="8.4" fill="#85504c"/><path d="M-7.5,3.5 A8.2,8.2 0 0 0 7.5,3.5" fill="none" stroke="#c09894" stroke-width="1"/><circle r="5" fill="#8d5753"/><circle r="1.3" fill="#f2e2dc"/></g>
<g transform="translate(545.0,618.2)"><circle cx="0.0" cy="-11.0" r="2.1" fill="#4c2a28"/><circle cx="9.5" cy="-5.5" r="2.1" fill="#4c2a28"/><circle cx="9.5" cy="5.5" r="2.1" fill="#4c2a28"/><circle cx="0.0" cy="11.0" r="2.1" fill="#4c2a28"/><circle cx="-9.5" cy="5.5" r="2.1" fill="#4c2a28"/><circle cx="-9.5" cy="-5.5" r="2.1" fill="#4c2a28"/><circle r="10.2" fill="#5c3230"/><circle r="8.4" fill="#85504c"/><path d="M-7.5,3.5 A8.2,8.2 0 0 0 7.5,3.5" fill="none" stroke="#c09894" stroke-width="1"/><circle r="5" fill="#8d5753"/><circle r="1.3" fill="#f2e2dc"/></g>
<g transform="translate(454.4,461.3)"><circle cx="0.0" cy="-11.0" r="2.1" fill="#4c2a28"/><circle cx="9.5" cy="-5.5" r="2.1" fill="#4c2a28"/><circle cx="9.5" cy="5.5" r="2.1" fill="#4c2a28"/><circle cx="0.0" cy="11.0" r="2.1" fill="#4c2a28"/><circle cx="-9.5" cy="5.5" r="2.1" fill="#4c2a28"/><circle cx="-9.5" cy="-5.5" r="2.1" fill="#4c2a28"/><circle r="10.2" fill="#5c3230"/><circle r="8.4" fill="#85504c"/><path d="M-7.5,3.5 A8.2,8.2 0 0 0 7.5,3.5" fill="none" stroke="#c09894" stroke-width="1"/><circle r="5" fill="#8d5753"/><circle r="1.3" fill="#f2e2dc"/></g>
<g transform="translate(545.0,304.4)"><circle cx="0.0" cy="-11.0" r="2.1" fill="#4c2a28"/><circle cx="9.5" cy="-5.5" r="2.1" fill="#4c2a28"/><circle cx="9.5" cy="5.5" r="2.1" fill="#4c2a28"/><circle cx="0.0" cy="11.0" r="2.1" fill="#4c2a28"/><circle cx="-9.5" cy="5.5" r="2.1" fill="#4c2a28"/><circle cx="-9.5" cy="-5.5" r="2.1" fill="#4c2a28"/><circle r="10.2" fill="#5c3230"/><circle r="8.4" fill="#85504c"/><path d="M-7.5,3.5 A8.2,8.2 0 0 0 7.5,3.5" fill="none" stroke="#c09894" stroke-width="1"/><circle r="5" fill="#8d5753"/><circle r="1.3" fill="#f2e2dc"/></g>
<g transform="translate(726.2,304.4)"><circle cx="0.0" cy="-11.0" r="2.1" fill="#4c2a28"/><circle cx="9.5" cy="-5.5" r="2.1" fill="#4c2a28"/><circle cx="9.5" cy="5.5" r="2.1" fill="#4c2a28"/><circle cx="0.0" cy="11.0" r="2.1" fill="#4c2a28"/><circle cx="-9.5" cy="5.5" r="2.1" fill="#4c2a28"/><circle cx="-9.5" cy="-5.5" r="2.1" fill="#4c2a28"/><circle r="10.2" fill="#5c3230"/><circle r="8.4" fill="#85504c"/><path d="M-7.5,3.5 A8.2,8.2 0 0 0 7.5,3.5" fill="none" stroke="#c09894" stroke-width="1"/><circle r="5" fill="#8d5753"/><circle r="1.3" fill="#f2e2dc"/></g>
<g opacity="0.99"><text x="622" y="471.8" font-family="Liberation Sans, sans-serif" font-weight="bold" font-size="24" fill="#fbf8f2">36"</text></g>
<g class="lab" opacity="0.99">
<text x="648.6" y="36.5" font-size="24.6">Transfer Station</text>
<text x="939.4" y="284.8" font-size="24.6">Disc Climber</text>
<text x="120.9" y="308.7" font-size="24.42">Rail Panel with Ship&#39;s Wheel</text>
<text x="212.8" y="426.8" font-size="24.6">Single Drum</text>
<text x="457.2" y="718.0" font-size="24.6">Bongos</text>
<text x="594.2" y="709.4" font-size="24.6">Gear Panel</text>
<text x="103.0" y="810.2" font-size="24.36">Straight Slide</text>
<text x="857.8" y="856.7" font-size="24.6">Right Turn Slide</text>
</g>
</svg>
</body></html>
